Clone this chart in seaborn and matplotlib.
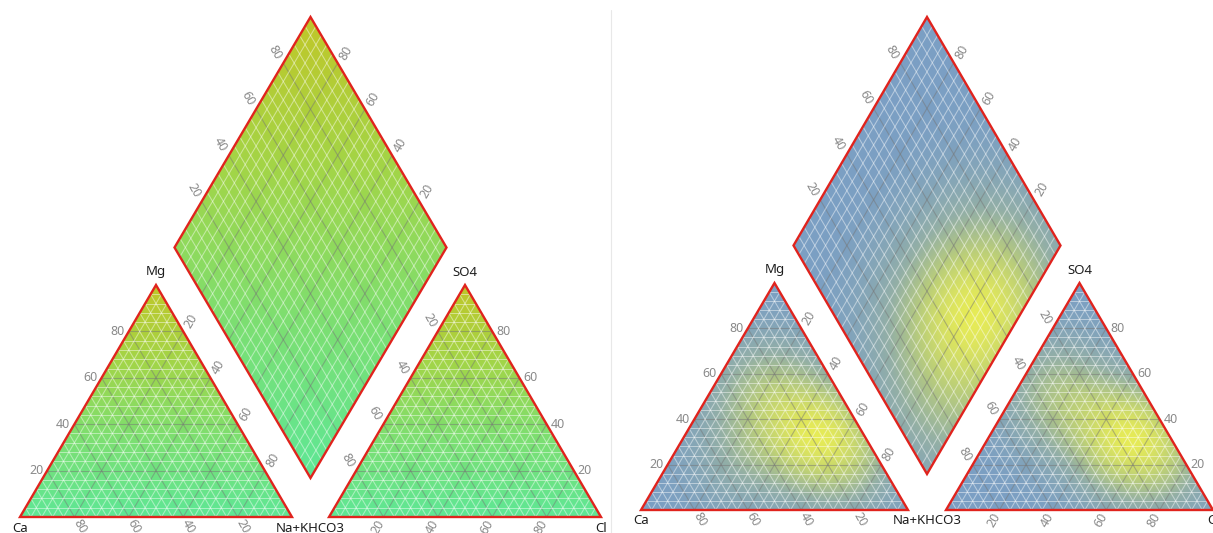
import numpy as np
import matplotlib
matplotlib.use("Agg")
import matplotlib.pyplot as plt
from matplotlib.patches import Polygon
import seaborn as sns

sns.set_theme(style="white")
plt.rcParams["font.family"] = ["Noto Sans", "DejaVu Sans"]

# ---- labels -------------------------------------------------------------
corner_labels = {"cat_left": "Ca", "cat_top": "Mg", "shared": "Na+KHCO3",
                 "an_top": "SO4", "an_right": "Cl"}
tick_values = [20, 40, 60, 80]

# ---- sample compositions (percent) for the density panel ----------------
cation_ca = [16, 12, 22, 14, 26, 20, 52, 8, 34]
cation_mg = [34, 38, 28, 26, 38, 58, 22, 22, 50]
cation_nak = [50, 50, 50, 60, 36, 22, 26, 70, 16]

anion_hco3 = [16, 12, 20, 10, 24, 36, 6, 30]
anion_so4 = [32, 36, 26, 28, 38, 47, 20, 56]
anion_cl = [52, 52, 54, 62, 38, 17, 74, 14]

# diamond position: value on the upper-left axis / upper-right axis
diamond_left = [49, 55, 42, 62, 30, 45, 68, 20, 75]
diamond_right = [14, 10, 20, 18, 5, 28, 12, 4, 30]

# ---- colour maps ---------------------------------------------------------
gradient_cmap = sns.blend_palette(["#5ee796", "#7cdf72", "#a2d548", "#c0c729"], as_cmap=True)
density_cmap = sns.blend_palette(["#7b9fc4", "#93afa6", "#bccf78", "#e6eb57"], as_cmap=True)

BORDER = "#e0231d"
TICK_COLOR = "#8a8a8a"

fig = plt.figure(figsize=(12.13, 5.33), dpi=100)
ax = fig.add_axes([0, 0, 1, 1])
ax.set_xlim(0, 1213)
ax.set_ylim(533, 0)
ax.axis("off")


def panel_geometry(x0, base, w, h, gap, lift, dh):
    P = lambda x, y: np.array([x, y], dtype=float)
    cat = [P(x0, base), P(x0 + w, base), P(x0 + w / 2, base - h)]
    ax0 = x0 + w + gap
    an = [P(ax0, base), P(ax0 + w, base), P(ax0 + w / 2, base - h)]
    bx = x0 + w + gap / 2
    B = P(bx, base - lift)
    L = B + P(-w / 2, -dh)
    R = B + P(w / 2, -dh)
    T = B + P(0, -2 * dh)
    return cat, an, (B, L, T, R)


def draw_field(verts, value_fn, cmap):
    pts = np.array(verts)
    xmin, ymin = np.floor(pts.min(axis=0)) - 1
    xmax, ymax = np.ceil(pts.max(axis=0)) + 1
    xs = np.arange(xmin, xmax + 0.5, 1.0)
    ys = np.arange(ymin, ymax + 0.5, 1.0)
    X, Y = np.meshgrid(xs, ys)
    Z = value_fn(X, Y, ymin, ymax)
    im = ax.imshow(Z, extent=(xmin, xmax, ymax, ymin), origin="upper", cmap=cmap,
                   vmin=0, vmax=1, interpolation="bilinear", zorder=1, aspect="auto")
    clip = Polygon(pts, closed=True, transform=ax.transData, facecolor="none", edgecolor="none")
    ax.add_patch(clip)
    im.set_clip_path(clip)


def vertical_value(X, Y, ymin, ymax):
    return (ymax - Y) / (ymax - ymin)


def density_value(px, py, bw):
    px = np.asarray(px)
    py = np.asarray(py)

    def fn(X, Y, ymin, ymax):
        Z = np.zeros_like(X)
        for x, y in zip(px, py):
            Z += np.exp(-((X - x) ** 2 + (Y - y) ** 2) / (2 * bw ** 2))
        return (Z / Z.max()) ** 0.85
    return fn


def seg(a, b, **kw):
    ax.plot([a[0], b[0]], [a[1], b[1]], solid_capstyle="butt", **kw)


def grid_lines(pairs):
    for k in range(1, 25):
        major = k % 5 == 0
        for a, b in pairs(k / 25):
            if major:
                seg(a, b, color="#767676", lw=0.8, alpha=0.5, zorder=2)
            else:
                seg(a, b, color="white", lw=0.75, alpha=0.45, zorder=3)


def triangle_grid(tri):
    A, Bv, C = tri
    grid_lines(lambda f: [(C + f * (A - C), C + f * (Bv - C)),
                          (A + f * (Bv - A), A + f * (C - A)),
                          (Bv + f * (A - Bv), Bv + f * (C - Bv))])


def diamond_grid(dia):
    B, L, T, R = dia
    grid_lines(lambda f: [(B + f * (R - B), L + f * (R - B)),
                          (B + f * (L - B), R + f * (L - B))])


def outline(verts):
    ax.add_patch(Polygon(np.array(verts), closed=True, fill=False, edgecolor=BORDER,
                         lw=1.7, joinstyle="miter", zorder=5))


def tick_text(pos, label, rot, ha, va="center"):
    ax.text(pos[0], pos[1], str(label), rotation=rot, rotation_mode="anchor",
            ha=ha, va=va, fontsize=9, color=TICK_COLOR, zorder=6)


UP_RIGHT = np.array([0.5, -0.866])
DOWN_RIGHT = np.array([0.5, 0.866])


def axis_labels(cat, an, dia):
    A, Bv, C = cat
    for v in tick_values:
        f = v / 100
        tick_text(A + f * (C - A) + [-4, 0], v, 0, "right")
        tick_text(C + f * (Bv - C) + 5 * UP_RIGHT + [2, 0], v, 60, "left")
        tick_text(A + (1 - f) * (Bv - A) + 4 * DOWN_RIGHT, v, -60, "left")
    A, Bv, C = an
    for v in tick_values:
        f = v / 100
        tick_text(C + f * (A - C) - 5 * DOWN_RIGHT + [-2, 0], v, -60, "right")
        tick_text(Bv + f * (C - Bv) + [4, 0], v, 0, "left")
        tick_text(A + f * (Bv - A) - 4 * UP_RIGHT, v, 60, "right")
    B, L, T, R = dia
    for v in tick_values:
        f = v / 100
        tick_text(L + f * (T - L) - 5 * DOWN_RIGHT + [-2, 0], v, -60, "right")
        tick_text(R + f * (T - R) + 5 * UP_RIGHT + [2, 0], v, 60, "left")


def corner_text(cat, an):
    kw = dict(fontsize=9.5, color="#1e1e1e", ha="center", va="center", zorder=6)
    A, Bv, C = cat
    A2, B2, C2 = an
    ax.text(C[0], C[1] - 13, corner_labels["cat_top"], **kw)
    ax.text(C2[0], C2[1] - 13, corner_labels["an_top"], **kw)
    ax.text(A[0], A[1] + 11, corner_labels["cat_left"], **kw)
    ax.text((Bv[0] + A2[0]) / 2, A[1] + 11, corner_labels["shared"], **kw)
    ax.text(B2[0], B2[1] + 11, corner_labels["an_right"], **kw)


def draw_panel(geom, fields):
    cat, an, dia = geom
    for verts, (fn, cmap) in zip([cat, an, dia], fields):
        draw_field(verts, fn, cmap)
    triangle_grid(cat)
    triangle_grid(an)
    diamond_grid(dia)
    for verts in (cat, an, dia):
        outline(verts)
    axis_labels(cat, an, dia)
    corner_text(cat, an)


# ---- left panel: shading by vertical composition -------------------------
left = panel_geometry(x0=20, base=517, w=272, h=232, gap=37, lift=39, dh=230.5)
draw_panel(left, [(vertical_value, gradient_cmap)] * 3)

# ---- right panel: density of sample compositions -------------------------
right = panel_geometry(x0=641, base=510, w=267, h=227, gap=38, lift=36, dh=228.5)
rc, ra, rd = right


def tri_xy(tri, right_frac, top_frac):
    A, Bv, C = tri
    w = Bv[0] - A[0]
    h = A[1] - C[1]
    x = A[0] + (np.asarray(right_frac) + np.asarray(top_frac) / 2) * w
    y = A[1] - np.asarray(top_frac) * h
    return x, y


cx, cy = tri_xy(rc, np.array(cation_nak) / 100, np.array(cation_mg) / 100)
axx, ayy = tri_xy(ra, np.array(anion_cl) / 100, np.array(anion_so4) / 100)
B, L, T, R = rd
b_frac = np.array(diamond_left) / 100
a_frac = np.array(diamond_right) / 100
dx = B[0] + a_frac * (L[0] - B[0]) + b_frac * (R[0] - B[0])
dy = B[1] + a_frac * (L[1] - B[1]) + b_frac * (R[1] - B[1])

draw_panel(right, [(density_value(cx, cy, 36), density_cmap),
                   (density_value(axx, ayy, 36), density_cmap),
                   (density_value(dx, dy, 50), density_cmap)])

# thin separator between the two panels
ax.plot([611, 611], [10, 533], color="#e8e8e8", lw=0.8, zorder=0)

fig.savefig("out.png", dpi=100)
